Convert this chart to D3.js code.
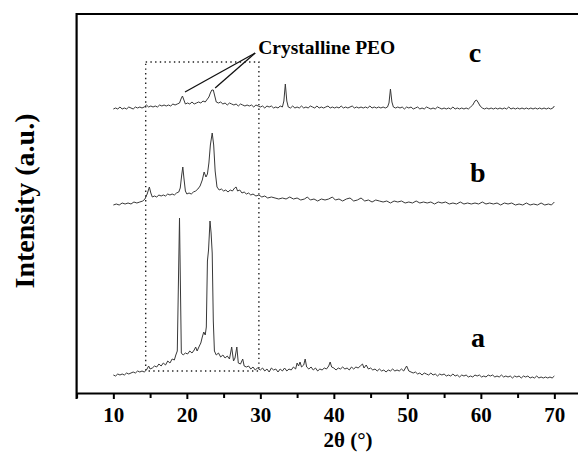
<!DOCTYPE html>
<html>
<head>
<meta charset="utf-8">
<script src="https://cdn.jsdelivr.net/npm/d3@7.9.0/dist/d3.min.js"></script>
<style>
  html, body { margin: 0; padding: 0; background: #fff; overflow: hidden; }
  svg { display: block; }
  text { font-family: "Liberation Serif", "Times New Roman", serif; font-weight: bold; fill: #000; }
</style>
</head>
<body>
<svg id="chart" width="578" height="454"></svg>
<script>
// XRD patterns, [2theta, intensity (a.u., offset per trace)]
const curveA = [
  [10.0,18],[10.3,17],[10.6,19],[10.9,18],[11.2,19],[11.5,18],[11.8,20],[12.1,19],[12.4,20],[12.7,21],
  [13.0,20],[13.3,22],[13.6,21],[13.9,22],[14.2,21],[14.5,23],[14.8,27],[15.0,24],[15.3,25],[15.6,27],
  [15.9,26],[16.2,29],[16.5,27],[16.8,30],[17.1,28],[17.4,32],[17.7,30],[18.0,34],[18.3,33],[18.5,38],
  [18.7,42],[19.0,175],[19.25,40],[19.5,38],[19.8,40],[20.1,39],[20.4,42],[20.7,40],[21.0,43],[21.2,46],
  [21.4,42],[21.7,47],[21.9,50],[22.1,56],[22.3,61],[22.5,58],[22.65,66],[22.8,132],[22.95,143],[23.15,172],
  [23.3,160],[23.45,140],[23.6,72],[23.75,42],[24.0,38],[24.3,40],[24.6,36],[24.9,38],[25.2,35],[25.5,37],
  [25.8,34],[26.1,46],[26.35,32],[26.55,35],[26.8,46],[27.0,30],[27.3,29],[27.6,34],[27.8,27],[28.1,26],
  [28.4,27],[28.7,24],[29.0,26],[29.3,23],[29.6,25],[30.0,23],[30.3,25],[30.6,22],[30.9,24],[31.2,21],
  [31.5,25],[31.8,23],[32.1,24],[32.4,21],[32.7,24],[33.0,22],[33.3,25],[33.6,22],[33.9,24],[34.2,23],
  [34.5,26],[34.8,24],[35.0,30],[35.2,27],[35.4,31],[35.6,26],[35.9,28],[36.1,34],[36.3,26],[36.6,24],
  [36.9,26],[37.2,23],[37.5,25],[37.8,22],[38.1,24],[38.4,23],[38.7,25],[39.0,24],[39.3,27],[39.5,31],
  [39.7,26],[40.0,25],[40.3,23],[40.6,25],[40.9,24],[41.2,26],[41.5,24],[41.8,25],[42.1,23],[42.4,26],
  [42.7,24],[43.0,26],[43.3,25],[43.6,27],[43.9,29],[44.1,25],[44.4,28],[44.7,24],[45.0,25],[45.3,23],
  [45.6,24],[45.9,22],[46.2,24],[46.5,22],[46.8,23],[47.1,21],[47.4,23],[47.7,22],[48.0,24],[48.3,22],
  [48.6,23],[48.9,22],[49.2,24],[49.5,22],[49.9,27],[50.2,22],[50.5,21],[50.8,20],[51.1,21],[51.4,19],
  [51.7,20],[52.0,18],[52.3,20],[52.6,19],[52.9,18],[53.2,20],[53.5,18],[53.8,19],[54.1,17],[54.4,19],
  [54.7,18],[55.0,19],[55.3,17],[55.6,18],[55.9,17],[56.2,19],[56.5,17],[56.8,18],[57.1,16],[57.4,18],
  [57.7,17],[58.0,18],[58.3,16],[58.6,17],[58.9,16],[59.2,18],[59.5,17],[59.8,18],[60.1,16],[60.4,17],
  [60.7,16],[61.0,18],[61.3,17],[61.6,18],[61.9,16],[62.2,17],[62.5,16],[62.8,18],[63.1,16],[63.4,17],
  [63.7,16],[64.0,17],[64.3,15],[64.6,17],[64.9,16],[65.2,17],[65.5,15],[65.8,17],[66.1,16],[66.4,17],
  [66.7,15],[67.0,16],[67.3,15],[67.6,17],[67.9,15],[68.2,16],[68.5,15],[68.8,16],[69.1,15],[69.4,16],
  [69.7,15],[70.0,17]
];

const curveB = [
  [10.0,188],[10.4,189],[10.8,188],[11.2,190],[11.6,189],[12.0,190],[12.4,189],[12.8,191],[13.2,190],[13.6,191],
  [14.0,192],[14.3,194],[14.6,199],[14.9,206],[15.1,200],[15.3,196],[15.6,197],[15.9,196],[16.2,198],[16.5,197],
  [16.8,198],[17.1,197],[17.4,199],[17.7,198],[18.0,199],[18.3,198],[18.6,200],[18.9,201],[19.1,205],[19.3,218],
  [19.45,226],[19.6,215],[19.8,202],[20.0,199],[20.3,200],[20.6,199],[20.9,201],[21.2,202],[21.5,204],[21.8,207],
  [22.1,213],[22.35,221],[22.6,216],[22.8,219],[23.0,230],[23.2,248],[23.45,260],[23.65,248],[23.85,222],[24.1,206],
  [24.4,203],[24.7,204],[25.0,202],[25.3,203],[25.6,201],[25.9,203],[26.2,202],[26.5,205],[26.7,206],[26.9,202],
  [27.2,203],[27.5,200],[27.8,201],[28.1,199],[28.4,200],[28.7,198],[29.0,199],[29.4,197],[29.8,198],[30.2,196],
  [30.6,197],[31.0,195],[31.5,196],[32.0,195],[32.5,194],[33.0,195],[33.5,194],[34.0,196],[34.5,194],[35.0,195],
  [35.5,193],[36.0,194],[36.4,196],[36.8,193],[37.3,194],[37.8,192],[38.3,194],[38.8,193],[39.3,194],[39.8,196],
  [40.2,193],[40.7,194],[41.2,192],[41.7,194],[42.2,195],[42.7,192],[43.2,193],[43.7,195],[44.2,192],[44.7,193],
  [45.2,191],[45.7,193],[46.2,192],[46.7,191],[47.2,192],[47.7,190],[48.2,192],[48.7,191],[49.2,192],[49.7,190],
  [50.2,191],[50.7,190],[51.2,192],[51.7,190],[52.2,191],[52.7,190],[53.2,191],[53.7,189],[54.2,191],[54.7,190],
  [55.2,191],[55.7,189],[56.2,190],[56.7,189],[57.2,191],[57.7,189],[58.2,190],[58.7,189],[59.2,190],[59.7,189],
  [60.2,191],[60.7,189],[61.2,190],[61.7,189],[62.2,190],[62.7,188],[63.2,190],[63.7,189],[64.2,190],[64.7,188],
  [65.2,189],[65.7,188],[66.2,190],[66.7,188],[67.2,189],[67.7,188],[68.2,190],[68.7,188],[69.2,189],[69.6,188],
  [70.0,191]
];

const curveC = [
  [10.0,284],[10.3,285],[10.6,284],[10.9,286],[11.2,284],[11.5,285],[11.8,284],[12.1,286],[12.4,285],[12.7,284],
  [13.0,286],[13.3,285],[13.6,286],[13.9,285],[14.2,286],[14.5,288],[14.8,286],[15.1,287],[15.4,286],[15.7,287],
  [16.0,286],[16.3,288],[16.6,287],[16.9,288],[17.2,287],[17.5,288],[17.8,287],[18.1,289],[18.4,288],[18.7,289],
  [19.0,290],[19.2,294],[19.4,297],[19.6,293],[19.8,289],[20.1,290],[20.4,289],[20.7,291],[21.0,289],[21.3,290],
  [21.6,291],[21.9,290],[22.2,292],[22.5,291],[22.8,294],[23.0,296],[23.2,300],[23.4,303],[23.6,303],[23.8,297],
  [24.0,291],[24.3,290],[24.6,291],[24.9,289],[25.2,290],[25.5,288],[25.8,290],[26.1,289],[26.4,288],[26.7,289],
  [27.0,287],[27.3,289],[27.6,288],[27.9,287],[28.2,288],[28.5,287],[28.8,288],[29.1,286],[29.4,288],[29.7,287],
  [30.0,286],[30.3,287],[30.6,285],[30.9,287],[31.2,286],[31.5,287],[31.8,285],[32.1,286],[32.4,285],[32.7,287],
  [33.0,286],[33.2,292],[33.4,309],[33.6,292],[33.8,286],[34.1,285],[34.4,287],[34.7,285],[35.0,286],[35.3,285],
  [35.6,287],[35.9,285],[36.2,286],[36.5,285],[36.8,287],[37.1,286],[37.4,285],[37.7,287],[38.0,285],[38.3,286],
  [38.6,285],[38.9,286],[39.2,287],[39.5,285],[39.8,286],[40.1,285],[40.4,286],[40.7,285],[41.0,287],[41.3,285],
  [41.6,286],[41.9,285],[42.2,286],[42.5,287],[42.8,285],[43.1,286],[43.4,285],[43.7,286],[44.0,285],[44.3,286],
  [44.6,285],[44.9,287],[45.2,285],[45.5,286],[45.8,285],[46.1,286],[46.4,285],[46.7,286],[47.0,285],[47.3,286],
  [47.5,290],[47.7,304],[47.9,291],[48.1,286],[48.4,285],[48.7,286],[49.0,285],[49.3,286],[49.6,284],[49.9,286],
  [50.2,285],[50.5,286],[50.8,284],[51.1,285],[51.4,286],[51.7,284],[52.0,285],[52.3,284],[52.6,286],[52.9,285],
  [53.2,284],[53.5,285],[53.8,284],[54.1,286],[54.4,285],[54.7,284],[55.0,285],[55.3,284],[55.6,285],[55.9,284],
  [56.2,286],[56.5,284],[56.8,285],[57.1,284],[57.4,285],[57.7,284],[58.0,285],[58.3,284],[58.6,286],[58.9,288],
  [59.2,292],[59.4,293],[59.6,291],[59.9,287],[60.2,285],[60.5,284],[60.8,285],[61.1,284],[61.4,285],[61.7,284],
  [62.0,285],[62.3,284],[62.6,285],[62.9,284],[63.2,285],[63.5,284],[63.8,286],[64.1,284],[64.4,285],[64.7,284],
  [65.0,285],[65.3,284],[65.6,285],[65.9,284],[66.2,285],[66.5,284],[66.8,285],[67.1,284],[67.4,285],[67.7,284],
  [68.0,285],[68.3,284],[68.6,285],[68.9,284],[69.2,285],[69.5,284],[69.8,285],[70.0,287]
];

const majorTicks = [10, 20, 30, 40, 50, 60, 70];
const minorTicks = [5, 15, 25, 35, 45, 55, 65, 75];

// trace labels: [label, 2theta, intensity]
const traceLabels = [["a", 59.6, 46], ["b", 59.6, 211], ["c", 59.2, 331]];

// dotted region [2theta0, 2theta1], [I0, I1]
const boxX = [14.4, 29.8];
const boxY = [22, 331];

// annotation: text anchor + the two peaks it points at
const annoText = "Crystalline PEO";
const annoAnchor = [29.3, 340];
const annoTargets = [[19.75, 301], [23.85, 305]];

const serif = '"Liberation Serif", "Times New Roman", serif';
const svg = d3.select("#chart");

const x = d3.scaleLinear().domain([5, 75]).range([76.6, 591.1]);
const y = d3.scaleLinear().domain([0, 379]).range([393, 14]);

// frame: top + left
svg.append("line")
  .attr("x1", x(5)).attr("x2", x(75))
  .attr("y1", y(379)).attr("y2", y(379))
  .attr("stroke", "#000").attr("stroke-width", 2.2);
svg.append("line")
  .attr("x1", x(5)).attr("x2", x(5))
  .attr("y1", y(379) - 1.1).attr("y2", y(0) + 6)
  .attr("stroke", "#000").attr("stroke-width", 2.2);

// bottom axis, major with labels
const axis = svg.append("g")
  .attr("transform", `translate(0,${y(0)})`)
  .call(d3.axisBottom(x).tickValues(majorTicks).tickSize(6).tickSizeOuter(0).tickPadding(8));
axis.attr("font-family", serif).attr("font-size", 21).attr("font-weight", "bold");
axis.select(".domain").attr("stroke-width", 2.2);
axis.selectAll(".tick line").attr("stroke-width", 2);
axis.selectAll(".tick text")
  .style("font-family", serif).style("font-size", "21px").style("font-weight", "bold")
  .attr("fill", "#000");

const minor = svg.append("g")
  .attr("transform", `translate(0,${y(0)})`)
  .call(d3.axisBottom(x).tickValues(minorTicks).tickSize(5).tickFormat(""));
minor.select(".domain").remove();
minor.selectAll(".tick line").attr("stroke-width", 2);

// axis titles
svg.append("text")
  .attr("x", 348).attr("y", 447)
  .attr("text-anchor", "middle")
  .style("font-size", "21px")
  .text("2θ (°)");

svg.append("text")
  .attr("transform", "translate(34,201) rotate(-90)")
  .attr("text-anchor", "middle")
  .style("font-size", "28px")
  .text("Intensity (a.u.)");

// dotted box
svg.append("rect")
  .attr("x", x(boxX[0])).attr("y", y(boxY[1]))
  .attr("width", x(boxX[1]) - x(boxX[0]))
  .attr("height", y(boxY[0]) - y(boxY[1]))
  .attr("fill", "none").attr("stroke", "#222")
  .attr("stroke-width", 1.4).attr("stroke-dasharray", "1.4,3.3");

// traces
const line = d3.line().x(d => x(d[0])).y(d => y(d[1]));
[curveA, curveB, curveC].forEach(c => {
  svg.append("path")
    .attr("d", line(c))
    .attr("fill", "none")
    .attr("stroke", "#383838")
    .attr("stroke-width", 1)
    .attr("stroke-linejoin", "round");
});

// annotation
annoTargets.forEach(t => {
  svg.append("line")
    .attr("x1", x(annoAnchor[0])).attr("y1", y(annoAnchor[1]))
    .attr("x2", x(t[0])).attr("y2", y(t[1]))
    .attr("stroke", "#111").attr("stroke-width", 1.3);
});
svg.append("text")
  .attr("x", x(annoAnchor[0]) + 3).attr("y", y(annoAnchor[1]) + 1)
  .style("font-size", "19.5px")
  .text(annoText);

// trace labels
svg.selectAll(".lbl")
  .data(traceLabels)
  .join("text")
  .attr("class", "lbl")
  .attr("x", d => x(d[1])).attr("y", d => y(d[2]))
  .attr("text-anchor", "middle")
  .style("font-size", "28px")
  .text(d => d[0]);
</script>
</body>
</html>
